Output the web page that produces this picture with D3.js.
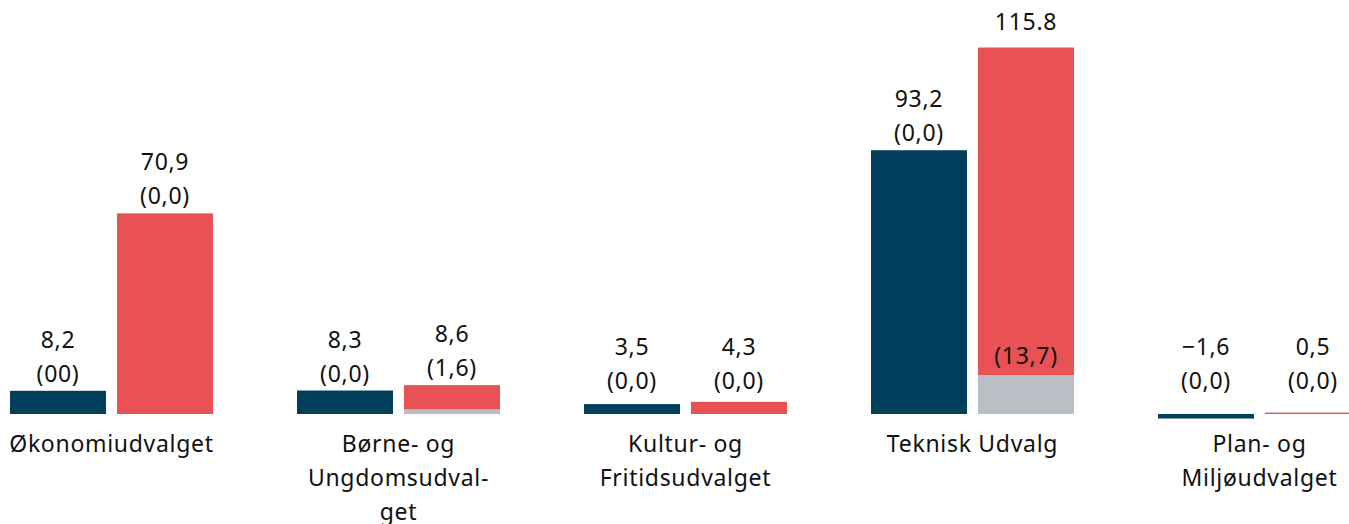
<!DOCTYPE html>
<html>
<head>
<meta charset="utf-8">
<script src="https://cdn.jsdelivr.net/npm/d3@7"></script>
<style>
  body { margin: 0; background: #fff; }
  svg text { font-family: "Noto Sans", sans-serif; font-size: 23px; letter-spacing: 0.7px; fill: #111; }
</style>
</head>
<body>
<script>
(function(){
  //chart data
  var categories = ["Økonomiudvalget", "Børne- og Ungdomsudvalget", "Kultur- og Fritidsudvalget", "Teknisk Udvalg", "Plan- og Miljøudvalget"];
  var categoryLines = [["Økonomiudvalget"], ["Børne- og", "Ungdomsudval-", "get"], ["Kultur- og", "Fritidsudvalget"], ["Teknisk Udvalg"], ["Plan- og", "Miljøudvalget"]];
  var series = ["first", "second"];
  var firstValues = [8.2, 8.3, 3.5, 93.2, -1.6];
  var secondValues = [70.9, 8.6, 4.3, 115.8, 0.5];
  var secondGray = [0, 1.6, 0, 13.7, 0];
  var firstLabels = ["8,2", "8,3", "3,5", "93,2", "−1,6"];
  var firstSubLabels = ["(00)", "(0,0)", "(0,0)", "(0,0)", "(0,0)"];
  var secondLabels = ["70,9", "8,6", "4,3", "115.8", "0,5"];
  var secondSubLabels = ["(0,0)", "(1,6)", "(0,0)", "(13,7)", "(0,0)"];

  var width = 1349, height = 524;
  var colors = { first: "#023f5c", second: "#e95254", gray: "#b9bfc5" };

  var svg = d3.select("body").append("svg")
      .attr("width", width)
      .attr("height", height);

  //group scale and bar scale inside each group
  var x0 = d3.scaleBand()
      .domain(categories)
      .range([10, 1361])
      .paddingInner(0.2927)
      .paddingOuter(0);

  var x1 = d3.scaleBand()
      .domain(series)
      .range([0, x0.bandwidth()])
      .paddingInner(0.103);

  var y = d3.scaleLinear()
      .domain([0, 129.5])
      .range([414, 47.5]);

  //build rows for bars
  var rows = [];
  categories.forEach(function(c, i){
      rows.push({cat: c, s: "first", v: firstValues[i], g: 0, lab: firstLabels[i], sub: firstSubLabels[i]});
      rows.push({cat: c, s: "second", v: secondValues[i], g: secondGray[i], lab: secondLabels[i], sub: secondSubLabels[i]});
  });

  var groups = svg.selectAll(".bar")
      .data(rows)
      .enter()
      .append("g")
      .attr("class", "bar")
      .attr("transform", function(d){ return "translate(" + (x0(d.cat) + x1(d.s)) + ",0)"; });

  //gray base segment
  groups.filter(function(d){ return d.g > 0; })
      .append("rect")
      .attr("width", x1.bandwidth())
      .attr("y", function(d){ return y(d.g); })
      .attr("height", function(d){ return y(0) - y(d.g); })
      .style("fill", colors.gray);

  //main segment
  groups.append("rect")
      .attr("width", x1.bandwidth())
      .attr("y", function(d){ return d.v >= 0 ? y(d.v + d.g) : y(0); })
      .attr("height", function(d){
          return d.v >= 0 ? y(d.g) - y(d.v + d.g) : y(d.v) - y(0);
      })
      .style("fill", function(d){ return colors[d.s]; });

  //value labels
  groups.each(function(d){
      var g = d3.select(this);
      var cx = x1.bandwidth() / 2;
      var top = y(Math.max(d.v, 0) + d.g);
      var grayH = y(0) - y(d.g);
      if (grayH > 30){
          //sub label sits inside the bar above the gray part
          g.append("text").attr("x", cx).attr("y", y(d.g) - 11)
              .attr("text-anchor", "middle").text(d.sub);
          g.append("text").attr("x", cx).attr("y", top - 18)
              .attr("text-anchor", "middle").text(d.lab);
      } else {
          var base = Math.min(top - 9, 389);
          g.append("text").attr("x", cx).attr("y", base - 34)
              .attr("text-anchor", "middle").text(d.lab);
          g.append("text").attr("x", cx).attr("y", base)
              .attr("text-anchor", "middle").text(d.sub);
      }
  });

  //category labels
  svg.selectAll(".catLabel")
      .data(categories)
      .enter()
      .append("text")
      .attr("class", "catLabel")
      .attr("text-anchor", "middle")
      .attr("x", function(d){ return x0(d) + x0.bandwidth() / 2; })
      .attr("y", 452)
      .each(function(d, i){
          var t = d3.select(this);
          categoryLines[i].forEach(function(line, j){
              t.append("tspan")
                  .attr("x", x0(d) + x0.bandwidth() / 2)
                  .attr("dy", j === 0 ? 0 : 34)
                  .text(line);
          });
      });
})();
</script>
</body>
</html>
